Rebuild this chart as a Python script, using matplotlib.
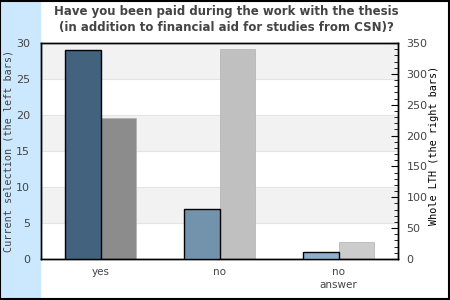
import numpy as np
import matplotlib.pyplot as plt
from matplotlib.patches import Rectangle
from matplotlib.ticker import MultipleLocator

title = 'Have you been paid during the work with the thesis\n(in addition to financial aid for studies from CSN)?'
categories = ['yes', 'no', 'no\nanswer']
current = [29, 7, 1]
whole_lth = [228, 340, 28]
left_colors = ['#42627e', '#7393ad', '#8fb0cc']
right_colors = ['#8c8c8c', '#c0c0c0', '#cccccc']

fig = plt.figure(figsize=(4.5, 3), dpi=100)
fig.patches.append(Rectangle((0, 0), 40 / 450, 1, transform=fig.transFigure,
                             color='#cce8ff', zorder=-1))
fig.patches.append(Rectangle((0.001, 0.002), 0.997, 0.995, transform=fig.transFigure,
                             fill=False, edgecolor='black', lw=1.5, zorder=5))

rect = [41 / 450, 1 - 259 / 300, 357 / 450, 216 / 300]
# right scale axes underneath, left scale axes on top with transparent patch
ax2 = fig.add_axes(rect, zorder=1)
ax = fig.add_axes(rect, zorder=2)
ax.patch.set_visible(False)

for i in range(6):
    c = '#f2f2f2' if i % 2 == 1 else 'white'
    ax2.axhspan(i / 6 * 350, (i + 1) / 6 * 350, color=c, zorder=0, lw=0)
for i in range(1, 6):
    ax2.axhline(i / 6 * 350, color='#e4e4e4', lw=0.8, zorder=0.5)

x = np.arange(len(categories))
w = 0.3
ax.bar(x - w / 2, current, w, color=left_colors, edgecolor='black', lw=1, zorder=3)
ax2.bar(x + w / 2, whole_lth, w, color=right_colors, edgecolor='#b0b0b0', lw=0.5, zorder=2)

for a in (ax, ax2):
    a.set_xlim(-0.5, 2.5)
    for s in a.spines.values():
        s.set_color('black')
        s.set_linewidth(1)
ax.set_ylim(0, 30)
ax2.set_ylim(0, 350)

ax.set_xticks(x)
ax.set_xticklabels(categories, fontsize=7.5, color='#444444', linespacing=1.3)
ax.tick_params(axis='x', length=0, pad=6)
ax2.set_xticks([])
ax.set_yticks(range(0, 31, 5))
ax.tick_params(axis='y', length=0, labelsize=8, colors='#444444', pad=8)

ax2.yaxis.tick_right()
ax2.yaxis.set_major_locator(MultipleLocator(50))
ax2.yaxis.set_minor_locator(MultipleLocator(10))
ax2.tick_params(axis='y', which='major', direction='in', length=5, labelsize=8,
                labelcolor='#444444', pad=6)
ax2.tick_params(axis='y', which='minor', direction='in', length=3)

fig.text(9 / 450, 1 - 151 / 300, 'Current selection (the left bars)',
         family='DejaVu Sans Mono', fontsize=7.3, color='#444444',
         rotation=90, ha='center', va='center')
fig.text(434 / 450, 1 - 145 / 300, 'Whole LTH (the right bars)',
         family='DejaVu Sans Mono', fontsize=7.3, color='black',
         rotation=90, ha='center', va='center')

fig.text(226 / 450, 1 - 20 / 300, title, ha='center', va='center', fontsize=8.5,
         fontweight='bold', color='#444444', linespacing=1.3)

fig.savefig('out.png', dpi=100)
